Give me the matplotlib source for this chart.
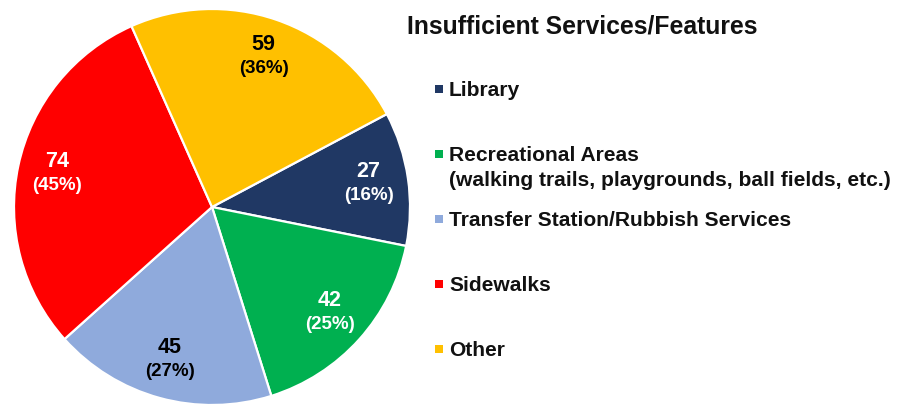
import numpy as np
import matplotlib
matplotlib.use("Agg")
import matplotlib.pyplot as plt
from matplotlib.patches import Rectangle

plt.rcParams['font.family'] = ['Liberation Sans', 'DejaVu Sans']

# ---- data ----
categories = [
    "Library",
    "Recreational Areas\n(walking trails, playgrounds, ball fields, etc.)",
    "Transfer Station/Rubbish Services",
    "Sidewalks",
    "Other",
]
counts = [27, 42, 45, 74, 59]
percent_labels = ["16%", "25%", "27%", "45%", "36%"]
colors = ["#203864", "#00B050", "#8FAADC", "#FF0000", "#FFC000"]
text_colors = ["white", "white", "black", "white", "black"]
legend_title = "Insufficient Services/Features"

W, H = 911, 405
fig = plt.figure(figsize=(W / 100, H / 100), dpi=100)

def fx(px):
    return px / W

def fy(py):
    return 1 - py / H

# pie
cx, cy, r = 212, 207, 198
ax = fig.add_axes([fx(cx - r), fy(cy + r), 2 * r / W, 2 * r / H])
wedges, _ = ax.pie(counts, colors=colors, startangle=28, counterclock=False,
                   wedgeprops=dict(edgecolor='white', linewidth=1.6))
ax.set_xlim(-1, 1)
ax.set_ylim(-1, 1)
ax.set_aspect('equal')

for w, n, p, tc in zip(wedges, counts, percent_labels, text_colors):
    ang = np.deg2rad((w.theta1 + w.theta2) / 2)
    x, y = 0.8 * np.cos(ang), 0.8 * np.sin(ang)
    ax.text(x, y + 0.062, str(n), ha='center', va='center', fontsize=15.5,
            fontweight='bold', color=tc)
    ax.text(x, y - 0.057, f"({p})", ha='center', va='center', fontsize=13.5,
            fontweight='bold', color=tc)

# legend (manual)
fig.text(fx(407), fy(27), legend_title, ha='left', va='center', fontsize=17.8,
         fontweight='bold', color='#111111')

y0, dy = 88.5, 65.2
for i, (lab, col) in enumerate(zip(categories, colors)):
    my = y0 + dy * i
    fig.add_artist(Rectangle((fx(435), fy(my + 4)), 8 / W, 8 / H,
                             transform=fig.transFigure, color=col, lw=0))
    for k, line in enumerate(lab.split("\n")):
        fig.text(fx(449), fy(my + 7 + 25 * k), line, ha='left', va='baseline',
                 fontsize=15.1, fontweight='bold', color='#111111')

fig.savefig("out.png", dpi=100)
